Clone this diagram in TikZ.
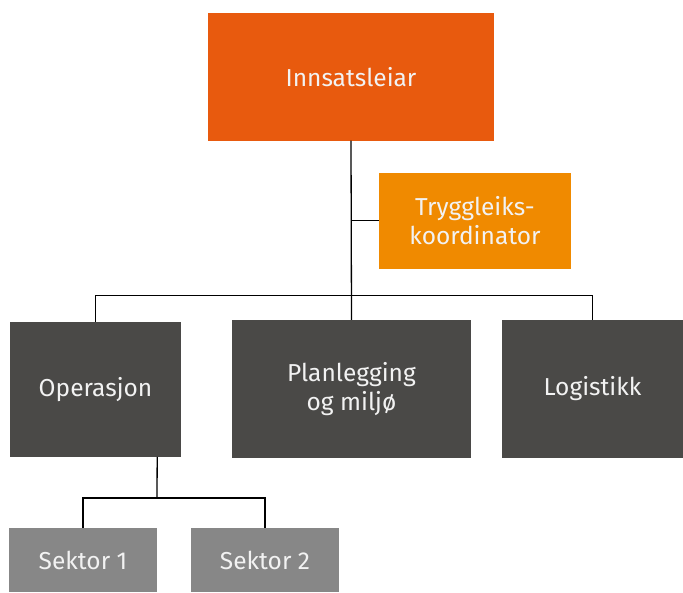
\documentclass[tikz,border=0pt]{standalone}
\usepackage{fontspec}
\setmainfont{Fira Sans}
\definecolor{cLead}{HTML}{E85A0E}
\definecolor{cSafe}{HTML}{F08A00}
\definecolor{cDark}{HTML}{4A4947}
\definecolor{cGrey}{HTML}{878787}
\definecolor{cText}{HTML}{F2F2F2}
\begin{document}
\begin{tikzpicture}[x=1pt,y=-1pt,
  orgbox/.style={rectangle, inner sep=0pt, text=cText, align=center,
    font=\fontsize{24.5}{29}\selectfont},
  conn/.style={draw=black, line width=1.3pt}]
\useasboundingbox (0,0) rectangle (683,592);
\node[orgbox, fill=cLead, minimum width=286pt, minimum height=127.5pt] (inn) at (351,76.75) {Innsatsleiar};
\node[orgbox, fill=cSafe, minimum width=192pt, minimum height=95.7pt] (trygg) at (475,220.85) {Tryggleiks-\\koordinator};
\node[orgbox, fill=cDark, minimum width=171pt, minimum height=134.7pt] (ops) at (95.5,389.35) {\raisebox{-3pt}{Operasjon}};
\node[orgbox, fill=cDark, minimum width=239.5pt, minimum height=137.7pt] (plan) at (351.5,388.85) {Planlegging\\og milj\o};
\node[orgbox, fill=cDark, minimum width=181pt, minimum height=137.7pt] (log) at (592.5,388.85) {Logistikk};
\node[orgbox, fill=cGrey, minimum width=148pt, minimum height=64pt] (s1) at (83,560) {\raisebox{-3pt}{Sektor 1}};
\node[orgbox, fill=cGrey, minimum width=148pt, minimum height=64pt] (s2) at (265,560) {\raisebox{-3pt}{Sektor 2}};
\coordinate (bus) at (351.5,295.7);
\coordinate (sbus) at (157,498);
\draw[conn] (inn.south) -- (plan.north);
\draw[conn] (ops.north) |- (bus) -| (log.north);
\draw[conn, line width=1pt] (inn.south |- trygg.west) -- (trygg.west);
\draw[conn] (ops.south -| s1.east) -- (sbus);
\draw[conn] (s1.north) |- (sbus) -| (s2.north);
\end{tikzpicture}
\end{document}
